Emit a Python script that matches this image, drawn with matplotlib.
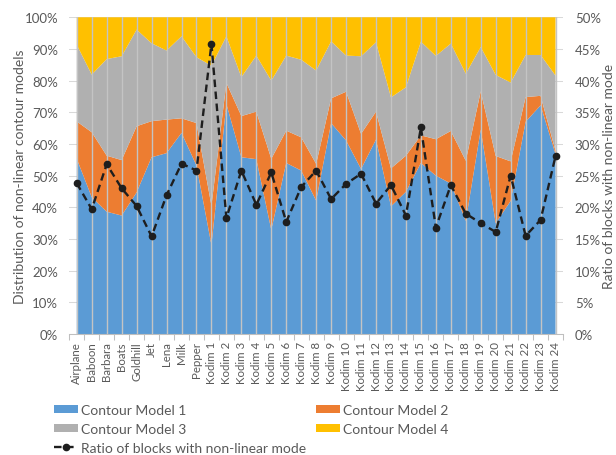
import matplotlib
matplotlib.use("Agg")
import matplotlib.pyplot as plt
from matplotlib.ticker import FixedLocator, FuncFormatter

plt.rcParams['font.family'] = ['Lato', 'DejaVu Sans']

# Data
images = ["Airplane", "Baboon", "Barbara", "Boats", "Goldhill", "Jet", "Lena",
          "Milk", "Pepper"] + [f"Kodim {i}" for i in range(1, 25)]

# share of each contour model (%), per image
model1 = [55.3, 43.2, 38.6, 37.4, 44.7, 55.8, 57.1, 63.5, 53.2, 28.1, 72.6,
          55.8, 55.2, 32.9, 54.0, 51.6, 42.1, 66.6, 61.1, 52.1, 61.4, 40.3,
          44.9, 54.0, 50.0, 47.5, 35.7, 64.5, 35.0, 42.0, 67.0, 72.2, 56.8]
model2 = [11.8, 20.5, 17.7, 17.5, 20.9, 11.4, 10.6, 4.6, 13.4, 12.4, 6.7,
          13.0, 15.0, 22.4, 10.2, 10.5, 11.6, 7.8, 15.4, 11.1, 8.8, 12.0,
          11.4, 8.7, 11.5, 16.6, 19.0, 12.1, 21.2, 12.5, 7.8, 3.0, 1.0]
model3 = [24.2, 18.2, 30.5, 32.8, 30.5, 24.6, 21.8, 25.9, 20.8, 44.2, 14.7,
          12.3, 17.7, 24.7, 23.7, 24.5, 29.5, 18.0, 11.4, 24.5, 21.9, 22.4,
          21.6, 29.6, 26.3, 27.6, 27.5, 14.0, 25.6, 24.9, 13.3, 12.9, 23.8]
model4 = [8.7, 18.1, 13.2, 12.3, 3.9, 8.2, 10.5, 6.0, 12.6, 15.3, 6.0,
          18.9, 12.1, 20.0, 12.1, 13.4, 16.8, 7.6, 12.1, 12.3, 7.9, 25.3,
          22.1, 7.7, 12.2, 8.3, 17.8, 9.4, 18.2, 20.6, 11.9, 11.9, 18.4]

# ratio of blocks with non-linear mode (%)
ratio = [23.8, 19.7, 26.8, 23.0, 20.2, 15.4, 21.9, 26.9, 25.8, 45.8, 18.3,
         25.8, 20.4, 25.5, 17.7, 23.2, 25.8, 21.3, 23.7, 25.3, 20.6, 23.5,
         18.7, 32.6, 16.8, 23.5, 19.0, 17.5, 16.1, 25.0, 15.5, 18.0, 28.1]

model_names = ["Contour Model 1", "Contour Model 2", "Contour Model 3", "Contour Model 4"]
colors = ["#5B9BD5", "#ED7D31", "#B0B0B0", "#FFC000"]
TXT = "#595959"

x = list(range(len(images)))

fig = plt.figure(figsize=(6.16, 4.56), dpi=100)
ax = fig.add_axes([0.1125, 0.2654, 0.8015, 0.6945])

polys = ax.stackplot(x, model1, model2, model3, model4, colors=colors,
                     labels=model_names, zorder=2, linewidth=0)
for xi in x:
    ax.axvline(xi, color="#C4C4C4", lw=1.0, zorder=3)

ax.set_xlim(-0.5, len(images) - 0.5)
ax.set_ylim(0, 100)
ax.set_yticks(range(0, 101, 10))
ax.yaxis.set_major_formatter(FuncFormatter(lambda v, p: f"{v:.0f}%"))
ax.grid(axis="y", color="#D9D9D9", lw=0.75, zorder=0)
ax.set_axisbelow(True)

ax.set_xticks(x)
ax.set_xticklabels(images, rotation=90, fontsize=8.3, color=TXT)
ax.xaxis.set_minor_locator(FixedLocator([i - 0.5 for i in range(len(images) + 1)]))
ax.tick_params(axis="x", which="major", length=0, pad=5)
ax.tick_params(axis="x", which="minor", length=4, color="#BFBFBF", width=0.75)
ax.tick_params(axis="y", length=0, pad=8, labelsize=9.5, labelcolor=TXT)
for s in ["top", "left", "right"]:
    ax.spines[s].set_visible(False)
ax.spines["bottom"].set_color("#BFBFBF")
ax.spines["bottom"].set_linewidth(0.75)

ax.set_ylabel("Distribution of non-linear contour models", fontsize=10,
              color=TXT, va="center")
ax.yaxis.set_label_coords(-0.0999, 0.5)

# secondary axis: ratio line
ax2 = ax.twinx()
line, = ax2.plot(x, ratio, color="#1E1E1E", lw=1.7, ls=(0, (3.2, 1.9)),
                 marker="o", markersize=4.5, label="Ratio of blocks with non-linear mode")
ax2.set_ylim(0, 50)
ax2.set_yticks(range(0, 51, 5))
ax2.yaxis.set_major_formatter(FuncFormatter(lambda v, p: f"{v:.0f}%"))
ax2.tick_params(axis="y", length=0, pad=8.5, labelsize=9.5, labelcolor=TXT)
for s in ax2.spines.values():
    s.set_visible(False)
ax2.set_ylabel("Ratio of blocks with non-linear mode", fontsize=10,
               color=TXT, va="center", rotation=90)
ax2.yaxis.set_label_coords(1.093, 0.5)

# legend: two columns, filled column-wise -> M1, M3, ratio | M2, M4
handles = [polys[0], polys[2], line, polys[1], polys[3]]
labels = [model_names[0], model_names[2], line.get_label(),
          model_names[1], model_names[3]]
leg = fig.legend(handles, labels, ncol=2, loc="upper left",
                 bbox_to_anchor=(54 / 616, 1 - 405 / 456), frameon=False,
                 fontsize=10, handlelength=1.75, handleheight=0.55,
                 handletextpad=0.2, columnspacing=0.7, labelspacing=0.5,
                 borderpad=0, borderaxespad=0)
for t in leg.get_texts():
    t.set_color(TXT)

fig.savefig("out.png", dpi=100)
plt.close(fig)
